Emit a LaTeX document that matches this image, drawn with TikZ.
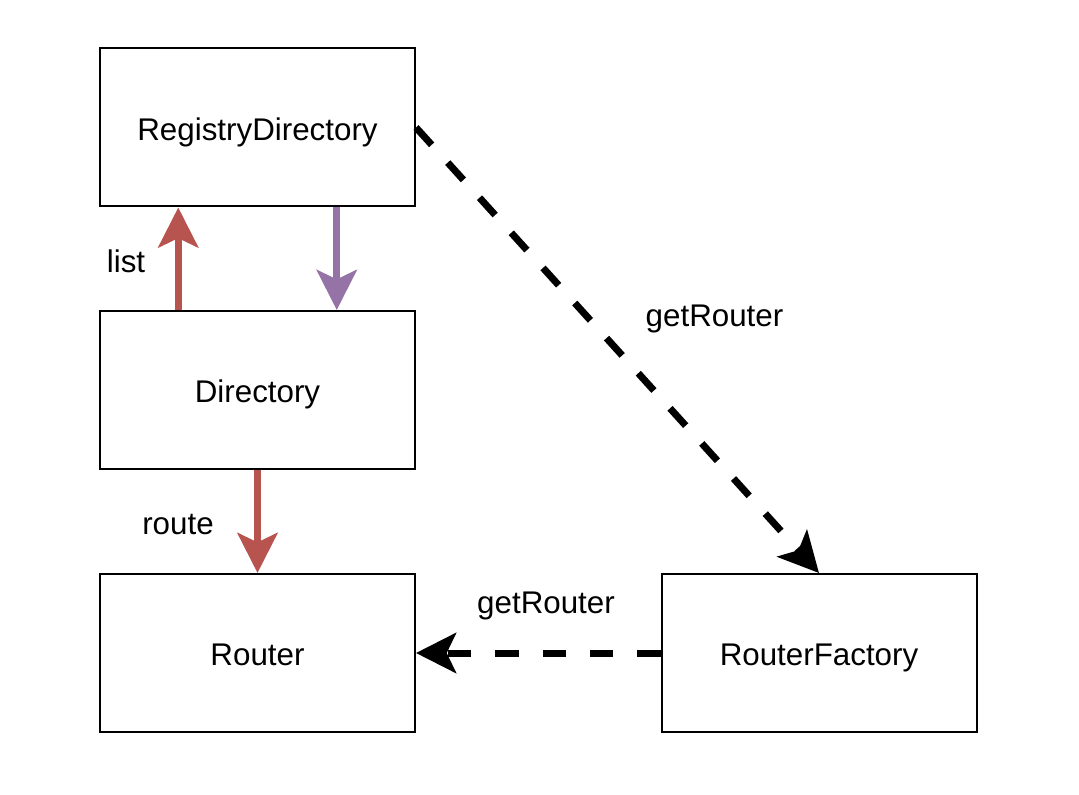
\documentclass[tikz,border=0pt]{standalone}
\usepackage{fontspec}
\setmainfont{Liberation Sans}
\usepackage{xcolor}
\usepackage{tikz}
\usetikzlibrary{arrows.meta,calc}
\definecolor{Ink}{HTML}{000000}
\definecolor{RouteRed}{HTML}{B85450}
\definecolor{NotifyPurple}{HTML}{9673A6}

\begin{document}
\begin{tikzpicture}[x=.75pt,y=.75pt]
  \path[use as bounding box] (0,0) rectangle (1079,794);
  \tikzset{
    rdLabel/.style={
      font=\fontsize{23.5}{28}\selectfont, text=Ink,
      text height=23.8pt, text depth=5pt, inner sep=0pt
    },
    rdBox/.style={
      rdLabel, draw=Ink, fill=white, line width=1.5pt,
      minimum width=236.25pt, minimum height=118.5pt
    },
    rdFlow/.style={
      -{Stealth[length=30pt,width=30pt,inset=7pt]},
      line width=5.25pt
    },
    rdCall/.style={
      rdFlow, draw=Ink, dash pattern=on 17.5pt off 18pt
    }
  }

  \node[rdBox] (registry) at (257.5,666.5) {RegistryDirectory};
  \node[rdBox] (directory) at (257.5,404) {Directory};
  \node[rdBox] (router) at (257.5,141) {Router};
  \node[rdBox] (factory) at (819,141) {RouterFactory};

  \draw[rdFlow, draw=RouteRed, fill=RouteRed]
    ($(directory.north west)!.25!(directory.north east)$) --
    ($(registry.south west)!.25!(registry.south east)$);
  \draw[rdFlow, draw=NotifyPurple, fill=NotifyPurple]
    ($(registry.south west)!.75!(registry.south east)$) --
    ($(directory.north west)!.75!(directory.north east)$);
  \draw[rdFlow, draw=RouteRed, fill=RouteRed] (directory.south) -- (router.north);
  \draw[rdCall] (registry.east) -- (factory.north);
  \draw[rdCall] (factory.west) -- (router.east);

  \node[rdLabel] (listLbl) at (126,534.5) {list};
  \node[rdLabel] (routeLbl) at (178,272.5) {route};
  \node[rdLabel] (callLbl) at (714.5,480.5) {getRouter};
  \node[rdLabel] (makeLbl) at (546,193.5) {getRouter};
\end{tikzpicture}
\end{document}
